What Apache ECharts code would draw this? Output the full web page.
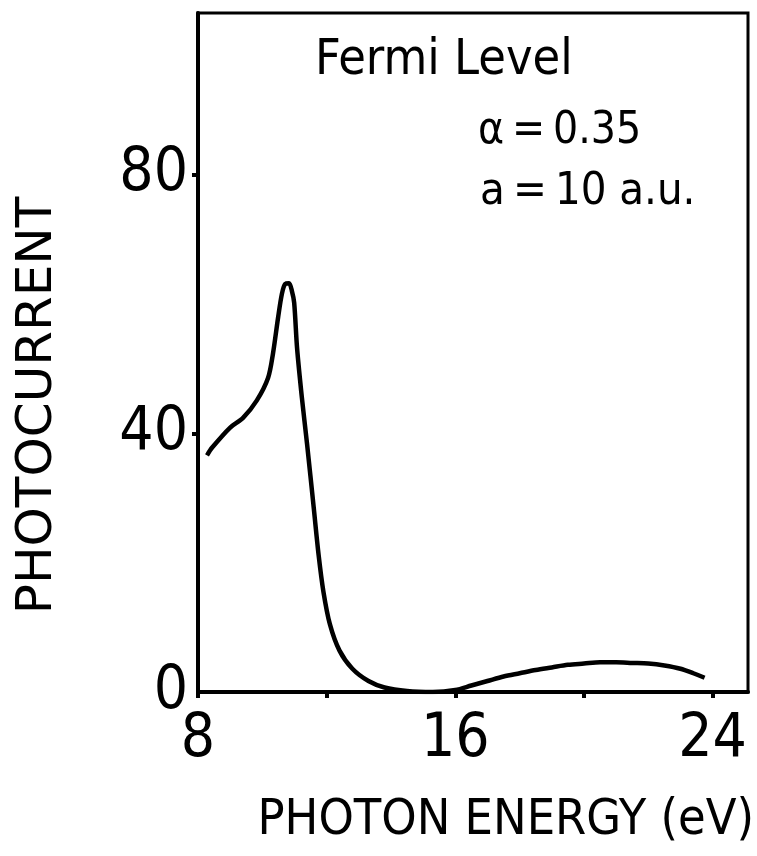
<!DOCTYPE html>
<html>
<head>
<meta charset="utf-8">
<script src="https://cdn.jsdelivr.net/npm/echarts@6/dist/echarts.min.js"></script>
<style>
  html, body { margin: 0; padding: 0; background: #fff; }
  #chart { width: 757px; height: 856px; }
</style>
</head>
<body>
<div id="chart"></div>
<script>
// photon energy (eV) and photocurrent
const energy = [8.28, 8.44, 9.0, 9.4, 9.83, 10.18, 10.33, 10.49, 10.61, 10.71, 10.83, 10.92, 10.99, 11.08, 11.23, 11.39, 11.6, 11.75, 11.9, 12.1, 12.4, 12.8, 13.3, 13.8, 14.5, 15.3, 16.0, 16.5, 17.0, 17.5, 18.0, 18.5, 19.0, 19.5, 20.0, 20.5, 21.0, 21.5, 22.0, 22.5, 23.0, 23.4, 23.75];
const current = [36.6, 37.8, 40.9, 42.4, 45.1, 48.6, 52.3, 57.9, 61.6, 63.1, 63.2, 62.0, 60.2, 53.2, 45.5, 38.4, 28.4, 21.2, 15.5, 10.5, 6.4, 3.6, 1.7, 0.7, 0.15, 0, 0.3, 1.0, 1.7, 2.4, 2.9, 3.4, 3.8, 4.2, 4.4, 4.6, 4.6, 4.5, 4.4, 4.1, 3.6, 2.9, 2.2];

const xTicks = [8, 12, 16, 20, 24];
const xLabels = [8, 16, 24];
const yTicks = [40, 80];
const yLabels = [0, 40, 80];

const font = "'DejaVu Sans Condensed', 'Liberation Sans Narrow', 'DejaVu Sans', sans-serif";
const plainFont = "'DejaVu Sans', sans-serif";

const chart = echarts.init(document.getElementById('chart'));

const option = {
  animation: false,
  backgroundColor: '#fff',
  grid: {
    left: 198, top: 13, right: 9, bottom: 164,
    outerBoundsMode: 'none',
    containLabel: false,
    show: true, borderColor: '#000', borderWidth: 3
  },
  xAxis: {
    type: 'value',
    min: 8, max: 25.1,
    name: 'PHOTON ENERGY (eV)',
    nameLocation: 'end',
    nameGap: 6,
    nameTextStyle: {
      fontFamily: font, fontSize: 50, color: '#000',
      align: 'right', verticalAlign: 'top', padding: [104, 0, 0, 0]
    },
    axisLine: { show: true, onZero: false, lineStyle: { color: '#000', width: 4 } },
    axisTick: { show: true, inside: false, length: 6, customValues: xTicks, lineStyle: { color: '#000', width: 4 } },
    axisLabel: { customValues: xLabels, margin: 18, fontFamily: font, fontSize: 60, color: '#000' },
    splitLine: { show: false }
  },
  yAxis: {
    type: 'value',
    min: 0, max: 105,
    name: 'PHOTOCURRENT',
    nameLocation: 'middle',
    nameGap: 135,
    nameRotate: 90,
    nameTextStyle: { fontFamily: plainFont, fontSize: 50, color: '#000', padding: [0, 106, 0, 0] },
    axisLine: { show: true, onZero: false, lineStyle: { color: '#000', width: 4 } },
    axisTick: { show: true, inside: false, length: 6, customValues: yTicks, lineStyle: { color: '#000', width: 4 } },
    axisLabel: { customValues: yLabels, margin: 10, fontFamily: font, fontSize: 60, color: '#000' },
    splitLine: { show: false }
  },
  graphic: [
    { type: 'text', left: 315, top: 36, style: { text: 'Fermi Level', fontFamily: font, fontSize: 50, fill: '#000' } },
    { type: 'text', left: 478, top: 110, style: { text: 'α\u2009=\u20090.35', fontFamily: font, fontSize: 44, fill: '#000' } },
    { type: 'text', left: 480, top: 170, style: { text: 'a\u2009=\u200910 a.u.', fontFamily: font, fontSize: 45, fill: '#000' } }
  ],
  series: [{
    type: 'line',
    data: energy.map((e, i) => [e, current[i]]),
    smooth: 0.3,
    showSymbol: false,
    lineStyle: { color: '#000', width: 4.5 }
  }]
};

chart.setOption(option);
</script>
</body>
</html>
